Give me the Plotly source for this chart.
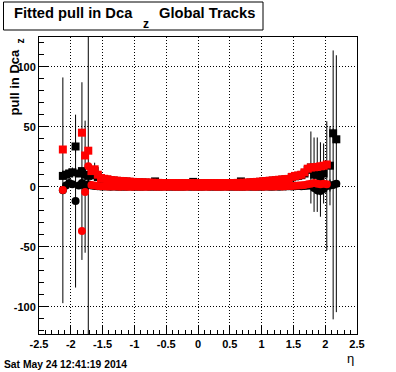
import numpy as np
import plotly.graph_objects as go

# ---------------- data ----------------
# eta bin centres (bin width 0.05) from -2.125 to 2.175
eta = np.linspace(-2.125, 2.175, 87)

red_sq = [31, None, None, None, None, None, 45, 26, 30, 13,
          14.5, 10, 7.2, 6.6, 6.2, 5.6, 5.3, 5.0, 4.8, 4.6,
          4.4, 4.2, 4.0, 3.8, 3.7, 3.6, 3.5, 3.4, 3.3, 3.2,
          3.2, 3.1, 3.1, 3.0, 3.0, 3.0, 2.9, 2.9, 2.9, 2.9,
          2.9, 2.8, 2.8, 2.8, 2.9, 2.9, 2.9, 2.9, 2.9, 3.0,
          3.0, 3.0, 3.0, 3.1, 3.1, 3.2, 3.2, 3.3, 3.4, 3.6,
          3.8, 4.0, 4.2, 4.4, 4.7, 5.0, 5.2, 5.4, 5.8, 6.0,
          6.2, 6.5, 8.2, 9.0, 9.4, 10.0, 12.0, 15.0, 16.0, 16.2,
          16.5, 17.0, 17.5, 18.5, None, None, None]

red_circ = [-2.7, None, None, None, None, None, -37, -4.5, 17, 1.5,
            1.0, 0.6, 0.4, 0.3, 0.2, 0.2, 0.1, 0.1, 0.0, 0.1,
            0.0, -0.1, 0.0, 0.1, 0.0, 0.0, -0.1, 0.0, 0.1, 0.0,
            0.0, -0.1, 0.0, 0.0, 0.1, 0.0, 0.0, -0.1, 0.0, 0.0,
            0.1, 0.0, 0.0, 0.0, -0.1, 0.0, 0.0, 0.1, 0.0, 0.0,
            -0.1, 0.0, 0.0, 0.1, 0.0, 0.0, 0.0, -0.1, 0.0, 0.1,
            0.0, 0.0, 0.1, 0.0, 0.1, 0.2, 0.1, 0.2, 0.3, 0.2,
            0.4, 0.5, 0.6, 0.8, 1.0, 1.2, 1.5, 2.0, 2.5, 3.0,
            2.5, 2.0, 2.5, 2.0, None, None, None]

black_sq = [9, 10, 11, 12, 33.5, 11, 13, 10, 9, 9.5,
            13, 8, 6.8, 6.2, 5.8, 5.3, 5.0, 4.8, 4.5, 4.4,
            4.2, 4.0, 3.8, 3.6, 3.5, 3.4, 3.3, 3.2, 3.1, 4.4,
            3.0, 2.9, 2.9, 2.8, 2.8, 2.8, 2.7, 2.7, 2.7, 2.7,
            2.7, 4.0, 2.6, 2.6, 2.7, 2.7, 2.7, 2.7, 2.7, 2.8,
            2.8, 2.8, 2.8, 2.9, 2.9, 3.0, 4.4, 3.1, 3.2, 3.4,
            3.6, 3.8, 4.0, 4.2, 4.5, 4.8, 5.0, 5.2, 5.5, 5.8,
            6.0, 6.2, 7.8, 8.6, 9.0, 9.6, 11, 14, 16, 10,
            10, 6, 11, None, 17.5, 44.5, 39.5]

black_sq_err = [3, 4, 4, 4, 5, 3, 74, 3, 200, 3,
                7, 2, 1.5, 1.2, 1.0, 1.0, 0.8, 0.8, 0.7, 0.7,
                0.6, 0.6, 0.5, 0.5, 0.5, 0.5, 0.4, 0.4, 0.4, 0.4,
                0.4, 0.4, 0.4, 0.4, 0.4, 0.4, 0.4, 0.4, 0.4, 0.4,
                0.4, 0.4, 0.4, 0.4, 0.4, 0.4, 0.4, 0.4, 0.4, 0.4,
                0.4, 0.4, 0.4, 0.4, 0.4, 0.4, 0.4, 0.4, 0.4, 0.5,
                0.5, 0.5, 0.5, 0.5, 0.5, 0.6, 0.6, 0.6, 0.6, 0.6,
                0.6, 0.7, 1.0, 1.2, 1.5, 2.0, 2.0, 3.0, 30, 31,
                31, 31, 25, 0, 33, 4, 4]

black_circ = [-3, 1, 3, 2, -12, 1, 3, 0, 2, 1,
              0.5, 0.3, 0.2, 0.1, 0.1, 0.0, 0.1, 0.0, 0.0, -0.1,
              0.0, 0.1, 0.0, 0.0, -0.1, 0.0, 0.1, 0.0, 0.0, 0.0,
              -0.1, 0.0, 0.1, 0.0, 0.0, 0.0, -0.1, 0.0, 0.0, 0.1,
              0.0, 0.0, -0.1, 0.0, 0.0, 0.1, 0.0, 0.0, 0.0, -0.1,
              0.0, 0.1, 0.0, 0.0, 0.0, -0.1, 0.0, 0.0, 0.1, 0.0,
              0.0, 0.0, -0.1, 0.0, 0.1, 0.0, 0.0, 0.1, 0.0, 0.2,
              0.1, 0.3, 0.2, 0.4, 0.5, 0.3, 0.6, 0.8, 1.0, -1.0,
              -3.0, -3.5, -2.0, 0.5, 1.0, 1.5, 2.5]

black_circ_err = [94, 3, 3, 3, 72, 3, 4, 55, 4, 2,
                  1.5, 1.2, 1.0, 0.8, 0.7, 0.6, 0.6, 0.5, 0.5, 0.5,
                  0.5, 0.4, 0.4, 0.4, 0.4, 0.4, 0.4, 0.4, 0.4, 0.4,
                  0.4, 0.4, 0.4, 0.4, 0.4, 0.4, 0.4, 0.4, 0.4, 0.4,
                  0.4, 0.4, 0.4, 0.4, 0.4, 0.4, 0.4, 0.4, 0.4, 0.4,
                  0.4, 0.4, 0.4, 0.4, 0.4, 0.4, 0.4, 0.4, 0.4, 0.4,
                  0.4, 0.5, 0.5, 0.5, 0.5, 0.5, 0.6, 0.6, 0.6, 0.7,
                  0.7, 0.8, 0.9, 1.0, 1.2, 1.5, 1.8, 2.0, 2.5, 3.0,
                  4, 4, 4, 54, 5, 112, 107]

x_ticks = [-2.5, -2, -1.5, -1, -0.5, 0, 0.5, 1, 1.5, 2, 2.5]
x_labels = ["-2.5", "-2", "-1.5", "-1", "-0.5", "0", "0.5", "1", "1.5", "2", "2.5"]
y_ticks = [-100, -50, 0, 50, 100]
y_labels = ["-100", "-50", "0", "50", "100"]

# ---------------- layout geometry ----------------
W, H = 396, 372
L, R, T, B = 39, 357, 37, 334


def px(x):
    return (x - L) / (R - L)


def py(y):
    return (B - y) / (B - T)


FONT = "Liberation Sans, Arial, Helvetica, sans-serif"

fig = go.Figure()


def err(arr):
    return dict(type="data", array=arr, visible=True, color="black",
                thickness=1, width=0)


fig.add_trace(go.Scatter(x=eta, y=black_circ, mode="markers",
                         marker=dict(symbol="circle", size=8, color="black", line=dict(width=0)),
                         error_y=err(black_circ_err), showlegend=False, hoverinfo="skip"))
fig.add_trace(go.Scatter(x=eta, y=black_sq, mode="markers",
                         marker=dict(symbol="square", size=8, color="black", line=dict(width=0)),
                         error_y=err(black_sq_err), showlegend=False, hoverinfo="skip"))
fig.add_trace(go.Scatter(x=eta, y=red_circ, mode="markers",
                         marker=dict(symbol="circle", size=8, color="#ff0000", line=dict(width=0)),
                         showlegend=False, hoverinfo="skip"))
fig.add_trace(go.Scatter(x=eta, y=red_sq, mode="markers",
                         marker=dict(symbol="square", size=8, color="#ff0000", line=dict(width=0)),
                         showlegend=False, hoverinfo="skip"))

axis_common = dict(
    showline=True, linecolor="black", linewidth=1, mirror=True,
    ticks="inside", tickcolor="black", tickwidth=1, ticklen=9,
    showgrid=True, gridcolor="black", gridwidth=1, griddash="1px,2px",
    zeroline=False,
    tickfont=dict(family=FONT, size=11, color="black", weight="bold"),
)

fig.update_xaxes(range=[-2.5, 2.5], tickmode="array", tickvals=x_ticks, ticktext=x_labels,
                 minor=dict(dtick=0.1, tick0=0, ticks="inside", ticklen=4.5,
                            tickcolor="black", showgrid=False),
                 **axis_common)
fig.update_yaxes(range=[-122.7, 124.7], tickmode="array", tickvals=y_ticks, ticktext=y_labels,
                 minor=dict(dtick=10, tick0=0, ticks="inside", ticklen=4.5,
                            tickcolor="black", showgrid=False),
                 **axis_common)

annotations = [
    dict(text="Fitted pull in Dca", x=px(12.7), y=py(12.5), xanchor="left", yanchor="middle",
         font=dict(family=FONT, size=14.7, color="black", weight="bold")),
    dict(text="z", x=px(142), y=py(24), xanchor="left", yanchor="middle",
         font=dict(family=FONT, size=12, color="black", weight="bold")),
    dict(text="Global Tracks", x=px(158), y=py(12.5), xanchor="left", yanchor="middle",
         font=dict(family=FONT, size=14.7, color="black", weight="bold")),
    dict(text="pull in Dca", x=px(14), y=py(48), xanchor="center", yanchor="top", textangle=-90,
         font=dict(family=FONT, size=13, color="black", weight="bold")),
    dict(text="z", x=px(19.5), y=py(41), xanchor="center", yanchor="middle", textangle=-90,
         font=dict(family=FONT, size=10.5, color="black", weight="bold")),
    dict(text="η", x=px(350), y=py(358), xanchor="center", yanchor="middle",
         font=dict(family=FONT, size=13, color="black")),
    dict(text="Sat May 24 12:41:19 2014", x=px(3), y=py(364), xanchor="left", yanchor="middle",
         font=dict(family=FONT, size=10.3, color="black", weight="bold")),
]
for a in annotations:
    a.update(xref="paper", yref="paper", showarrow=False, borderpad=0)

fig.update_layout(
    width=W, height=H,
    margin=dict(l=L, r=W - R, t=T, b=H - B, pad=0),
    paper_bgcolor="white", plot_bgcolor="white",
    showlegend=False, hovermode=False,
    annotations=annotations,
    shapes=[dict(type="rect", xref="paper", yref="paper",
                 x0=px(3.5), x1=px(263), y0=py(30), y1=py(2),
                 line=dict(color="black", width=1), fillcolor="white", layer="above")],
)

fig.write_html("out.html", config={"displayModeBar": False, "staticPlot": True},
               post_script="document.body.style.margin='0px';")
